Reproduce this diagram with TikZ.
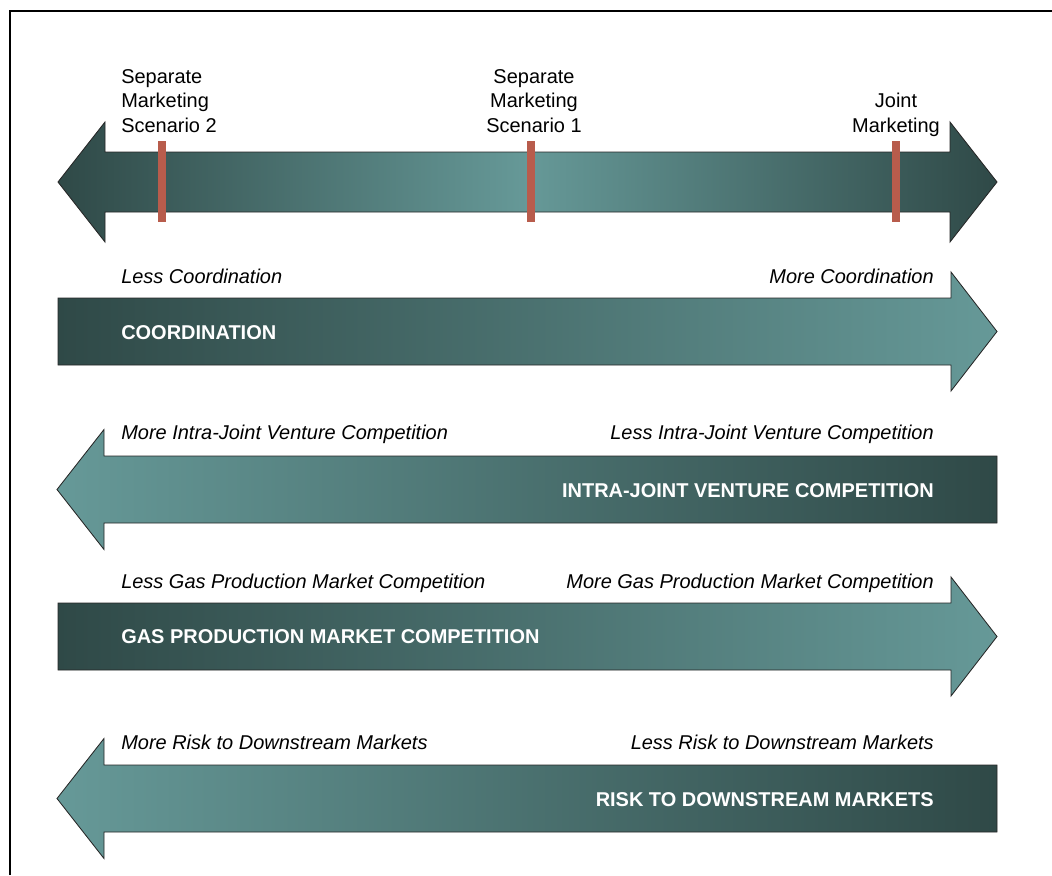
\documentclass[tikz,border=0pt]{standalone}
\usepackage{fontspec}
\setmainfont{Liberation Sans}
\usepackage{xcolor}
\usepackage{tikz}
\usetikzlibrary{positioning, calc}

\definecolor{tealdark}{RGB}{47,73,71}
\definecolor{teallight}{RGB}{102,153,152}
\definecolor{markred}{RGB}{184,92,76}

\begin{document}
\begin{tikzpicture}[
    x=0.025cm, y=-0.025cm,
    % Define styles for the arrows and labels
    band/.style={draw=black!85, line width=0.6pt, line join=miter},
    band_lr/.style={band, left color=tealdark, right color=teallight},
    band_rl/.style={band, left color=teallight, right color=tealdark},
    band_both/.style={band, left color=tealdark, right color=tealdark, middle color=teallight},
    marker/.style={fill=markred},
    scen_label/.style={inner sep=0pt, font=\fontsize{14.2}{17.1}\selectfont},
    side_label/.style={inner sep=0pt, font=\fontsize{14.2}{17.1}\selectfont\itshape},
    title_label/.style={inner sep=0pt, text=white, font=\fontsize{14.2}{17.1}\selectfont\bfseries}
]
    \useasboundingbox (0,0) rectangle (1052,875);

    % Outer frame
    \draw[line width=0.8pt] (10,875) -- (10,11) -- (1052,11);

    % =========================================================================
    % MARKETING SCALE (double arrow with markers)
    % =========================================================================
    \draw[band_both] (58,182) -- (105,122) -- (105,152) -- (950,152) -- (950,122)
        -- (997,182) -- (950,242) -- (950,212) -- (105,212) -- (105,242) -- cycle;

    \fill[marker] (158,141) rectangle (166,222);
    \fill[marker] (527,141) rectangle (535,222);
    \fill[marker] (892,141) rectangle (900,222);

    \node (sep_two) [scen_label, align=left, anchor=base west] at (121,132) {Separate\\Marketing\\Scenario 2};
    \node (sep_one) [scen_label, align=center, anchor=base] at (534,132) {Separate\\Marketing\\Scenario 1};
    \node (joint_mkt) [scen_label, align=center, anchor=base] at (896,132) {Joint\\Marketing};

    % =========================================================================
    % COORDINATION (pointing right)
    % =========================================================================
    \draw[band_lr] (58,298) -- (951,298) -- (951,272) -- (997,331.5) -- (951,391)
        -- (951,365) -- (58,365) -- cycle;
    \node (coord_less) [side_label, anchor=base west] at (121,283) {Less Coordination};
    \node (coord_more) [side_label, anchor=base east] at (934,283) {More Coordination};
    \node (coord_title) [title_label, anchor=base west] at (121,339) {COORDINATION};

    % =========================================================================
    % INTRA-JOINT VENTURE COMPETITION (pointing left)
    % =========================================================================
    \draw[band_rl] (997,456) -- (104,456) -- (104,429.5) -- (57,489.5) -- (104,549.5)
        -- (104,523) -- (997,523) -- cycle;
    \node (ijv_more) [side_label, anchor=base west] at (121,439) {More Intra-Joint Venture Competition};
    \node (ijv_less) [side_label, anchor=base east] at (934,439) {Less Intra-Joint Venture Competition};
    \node (ijv_title) [title_label, anchor=base east] at (934,497) {INTRA-JOINT VENTURE COMPETITION};

    % =========================================================================
    % GAS PRODUCTION MARKET COMPETITION (pointing right)
    % =========================================================================
    \draw[band_lr] (58,603) -- (951,603) -- (951,577) -- (997,636.5) -- (951,696)
        -- (951,670) -- (58,670) -- cycle;
    \node (gas_less) [side_label, anchor=base west] at (121,588) {Less Gas Production Market Competition};
    \node (gas_more) [side_label, anchor=base east] at (934,588) {More Gas Production Market Competition};
    \node (gas_title) [title_label, anchor=base west] at (121,643) {GAS PRODUCTION MARKET COMPETITION};

    % =========================================================================
    % RISK TO DOWNSTREAM MARKETS (pointing left)
    % =========================================================================
    \draw[band_rl] (997,765) -- (104,765) -- (104,738.5) -- (57,798.5) -- (104,858.5)
        -- (104,832) -- (997,832) -- cycle;
    \node (risk_more) [side_label, anchor=base west] at (121,749) {More Risk to Downstream Markets};
    \node (risk_less) [side_label, anchor=base east] at (934,749) {Less Risk to Downstream Markets};
    \node (risk_title) [title_label, anchor=base east] at (934,806) {RISK TO DOWNSTREAM MARKETS};

\end{tikzpicture}
\end{document}
